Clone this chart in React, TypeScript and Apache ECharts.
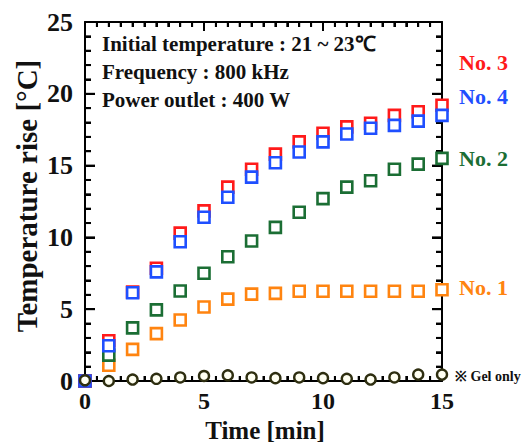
import React, { useEffect, useRef } from "react";
import * as echarts from "echarts";

const minutes = [0, 1, 2, 3, 4, 5, 6, 7, 8, 9, 10, 11, 12, 13, 14, 15];
const no1 = [0, 1.1, 2.2, 3.3, 4.25, 5.15, 5.7, 6.05, 6.1, 6.25, 6.25, 6.25, 6.25, 6.25, 6.25, 6.35];
const no2 = [0, 1.8, 3.7, 4.95, 6.27, 7.5, 8.65, 9.75, 10.7, 11.75, 12.7, 13.5, 13.95, 14.75, 15.1, 15.5];
const no3 = [0, 2.8, 6.2, 7.85, 10.3, 11.85, 13.5, 14.75, 15.8, 16.65, 17.25, 17.7, 17.95, 18.5, 18.75, 19.2];
const no4 = [0, 2.45, 6.15, 7.6, 9.7, 11.4, 12.8, 14.2, 15.2, 15.95, 16.65, 17.2, 17.6, 17.8, 18.1, 18.5];
const gel = [0.05, 0, 0.1, 0.15, 0.25, 0.35, 0.4, 0.25, 0.2, 0.25, 0.2, 0.15, 0.1, 0.25, 0.45, 0.45];
const yTicks = [0, 5, 10, 15, 20, 25];
const xTicks = [0, 5, 10, 15];
const infoLines = ["Initial temperature : 21 ~ 23℃", "Frequency : 800 kHz", "Power outlet : 400 W"];

const FONT = "'Liberation Serif', 'Times New Roman', serif";

export default function App() {
  const ref = useRef<HTMLDivElement>(null);
  useEffect(() => {
    if (!ref.current) return;
    const chart = echarts.init(ref.current, null, { renderer: "svg" });
    const pair = (arr: number[]) => minutes.map((m, i) => [m, arr[i]]);
    const sq = (name: string, data: number[], color: string) => ({
      name,
      type: "scatter",
      data: pair(data),
      symbol: "rect",
      symbolSize: 11,
      itemStyle: { color: "#ffffff", borderColor: color, borderWidth: 2.6, opacity: 1 },
      z: 3,
    });

    // tick marks on all four sides (kind 0 = x tick, kind 1 = y tick; third value 1 = major)
    const tickData: number[][] = [];
    for (let v = 0; v <= 15.001; v += 0.5) tickData.push([v, 0, v % 5 === 0 ? 1 : 0]);
    for (let v = 0; v <= 25.001; v += 1) tickData.push([v, 1, v % 5 === 0 ? 1 : 0]);

    const line = () => ({ show: true, onZero: false, lineStyle: { color: "#000", width: 2 } });
    const xTick = () => ({ show: true, inside: true, length: 9, lineStyle: { width: 2, color: "#000" } });
    const xMinor = () => ({ show: true, splitNumber: 10, length: 5, lineStyle: { width: 2, color: "#000" } });
    const yTick = () => ({ show: true, inside: true, length: 10, lineStyle: { width: 2, color: "#000" } });
    const yMinor = () => ({ show: true, splitNumber: 5, length: 6, lineStyle: { width: 2, color: "#000" } });
    const labelStyle = { fontFamily: FONT, fontWeight: "bold", color: "#111" };
    chart.setOption({
      animation: false,
      backgroundColor: "#ffffff",
      grid: { left: 85, right: 87, top: 22, bottom: 61, containLabel: false },
      xAxis: [
        {
          type: "value", min: 0, max: 15, interval: 5,
          axisLine: line(), axisTick: xTick(), minorTick: xMinor(), splitLine: { show: false },
          axisLabel: { ...labelStyle, fontSize: 24, margin: 8, formatter: (v: number) => (xTicks.includes(v) ? String(v) : "") },
        },
        {
          type: "value", position: "top", min: 0, max: 15, interval: 5,
          axisLine: line(), axisTick: xTick(), minorTick: xMinor(), splitLine: { show: false },
          axisLabel: { show: false },
        },
      ],
      yAxis: [
        {
          type: "value", min: 0, max: 25, interval: 5,
          axisLine: line(), axisTick: yTick(), minorTick: yMinor(), splitLine: { show: false },
          axisLabel: { ...labelStyle, fontSize: 26, margin: 12, formatter: (v: number) => (yTicks.includes(v) ? String(v) : "") },
        },
        {
          type: "value", position: "right", min: 0, max: 25, interval: 5,
          axisLine: line(), axisTick: yTick(), minorTick: yMinor(), splitLine: { show: false },
          axisLabel: { show: false },
        },
      ],
      series: [
        {
          type: "custom",
          name: "ticks",
          coordinateSystem: "cartesian2d",
          xAxisIndex: 0,
          yAxisIndex: 0,
          silent: true,
          z: 1,
          data: tickData,
          renderItem: (params: any, api: any) => {
            const v = api.value(0);
            const kind = api.value(1);
            const major = api.value(2) === 1;
            const st = { stroke: "#000", lineWidth: 2 };
            if (kind === 0) {
              const len = major ? 9 : 5;
              const b = api.coord([v, 0]);
              const t = api.coord([v, 25]);
              return {
                type: "group",
                children: [
                  { type: "line", shape: { x1: b[0], y1: b[1], x2: b[0], y2: b[1] - len }, style: st },
                  { type: "line", shape: { x1: t[0], y1: t[1], x2: t[0], y2: t[1] + len }, style: st },
                ],
              };
            }
            const len = major ? 10 : 6;
            const l = api.coord([0, v]);
            const r = api.coord([15, v]);
            return {
              type: "group",
              children: [
                { type: "line", shape: { x1: l[0], y1: l[1], x2: l[0] + len, y2: l[1] }, style: st },
                { type: "line", shape: { x1: r[0], y1: r[1], x2: r[0] - len, y2: r[1] }, style: st },
              ],
            };
          },
        },
        sq("No. 1", no1, "#ff8410"),
        sq("No. 2", no2, "#1b6e34"),
        sq("No. 3", no3, "#ff1a1a"),
        sq("No. 4", no4, "#1f4fff"),
        {
          name: "Gel only",
          type: "scatter",
          data: pair(gel),
          symbol: "circle",
          symbolSize: 10,
          itemStyle: { color: "#fffff2", borderColor: "#2e2e10", borderWidth: 2.4, opacity: 1 },
          z: 4,
        },
      ],
      graphic: [
        ...infoLines.map((t, i) => ({
          type: "text",
          x: 102,
          y: [44, 72, 100][i],
          style: { text: t, fontFamily: FONT, fontWeight: "bold", fontSize: 21, fill: "#111", verticalAlign: "middle" },
          z: 10,
        })),
        { type: "text", x: 459, y: 62, style: { text: "No. 3", fontFamily: FONT, fontWeight: "bold", fontSize: 22, fill: "#ff1a1a", verticalAlign: "middle" } },
        { type: "text", x: 459, y: 96, style: { text: "No. 4", fontFamily: FONT, fontWeight: "bold", fontSize: 22, fill: "#1f4fff", verticalAlign: "middle" } },
        { type: "text", x: 459, y: 158, style: { text: "No. 2", fontFamily: FONT, fontWeight: "bold", fontSize: 22, fill: "#1b6e34", verticalAlign: "middle" } },
        { type: "text", x: 459, y: 287, style: { text: "No. 1", fontFamily: FONT, fontWeight: "bold", fontSize: 22, fill: "#ff8410", verticalAlign: "middle" } },
        { type: "text", x: 455, y: 376, style: { text: "※ Gel only", fontFamily: FONT, fontWeight: "bold", fontSize: 14, fill: "#111", verticalAlign: "middle" } },
        {
          type: "text",
          x: 27,
          y: 196,
          rotation: Math.PI / 2,
          style: { text: "Temperature rise [°C]", fontFamily: FONT, fontWeight: "bold", fontSize: 29, fill: "#111", align: "center", verticalAlign: "middle" },
        },
        {
          type: "text",
          x: 265,
          y: 430,
          style: { text: "Time [min]", fontFamily: FONT, fontWeight: "bold", fontSize: 25, fill: "#111", align: "center", verticalAlign: "middle" },
        },
      ],
    });
    return () => chart.dispose();
  }, []);
  return <div ref={ref} style={{ width: 529, height: 442, position: "absolute", left: 0, top: 0 }} />;
}
